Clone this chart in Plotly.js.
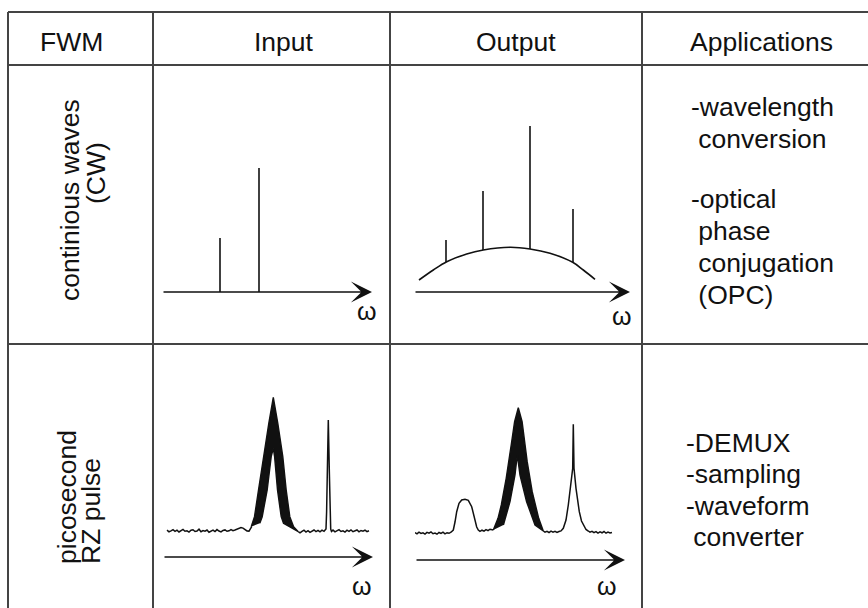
<!DOCTYPE html>
<html><head><meta charset="utf-8">
<script src="https://cdn.plot.ly/plotly-3.0.1.min.js"></script>
<style>html,body{margin:0;padding:0;background:#fff}#chart{width:868px;height:608px}</style>
</head><body><div id="chart"></div>
<script>
// ---------------- data ----------------
const columnHeaders = ["FWM", "Input", "Output", "Applications"];
const rowLabelsCW = ["continious waves", "(CW)"];
const rowLabelsPulse = ["picosecond", "RZ pulse"];
const cwApplications = ["-wavelength", "\u00a0conversion", "-optical", "\u00a0phase", "\u00a0conjugation", "\u00a0(OPC)"];
const pulseApplications = ["-DEMUX", "-sampling", "-waveform", "\u00a0converter"];
const omegaLabel = "ω";

// CW input: two pump lines (relative frequency, amplitude)
const cwInFreq = [58, 97];
const cwInAmp = [54, 124];

// CW output: four lines on a broad background
const cwOutFreq = [32, 69, 116, 159];
const cwOutAmp = [52, 101, 166, 83];
const cwOutFloor = [30, 42, 43, 30];
const cwOutBgFreq = [5, 19.3, 32.7, 52.7, 69.3, 96, 116, 136, 158.7, 169.3, 181];
const cwOutBgLevel = [12, 22, 30.3, 38, 42, 44.7, 43, 38.7, 29.7, 22, 12.7];

// Picosecond pulse input spectrum (trace); null = where the broad band sits
const pulseInFreq = [4,6,8,10,12,14,16,18,20,22,24,26,28,30,32,34,36,38,40,42,44,46,48,50,52,54,56,58,60,62,64,66,68,70,72,74,76,78,80,82,84,86,88.7,
  null,
  135.3,137,139,141,143,145,147,149,151,153,155,157,159,161,162,163,163.6,164.3,165.3,166.3,167,167.7,168.5,
  170,172,174,176,178,180,182,184,186,188,190,192,194,196,198,200,202,204,206];
const pulseInLevel = [26.8,25.2,26.1,27.3,25.6,26.9,25.0,26.4,27.6,25.8,26.2,24.9,26.7,27.2,25.5,26.0,27.8,25.3,26.5,25.9,27.0,24.8,26.3,26.9,25.4,27.4,26.0,25.1,26.6,27.1,25.7,26.2,27.5,26.4,27.0,27.6,28.6,29.5,28.9,27.2,26.1,25.9,30.3,
  null,
  25.3,24.2,25.6,26.9,25.0,26.4,24.7,26.1,27.0,25.4,26.6,25.1,26.8,25.7,26.5,28,45,87,137,87,45,28,25.5,
  26.9,25.2,26.6,27.3,25.5,26.2,24.9,26.8,25.6,27.1,25.3,26.4,27.0,25.1,26.5,25.8,26.9,25.4,26.2];
// broad modulated pump band: outer and inner envelopes
const pulseInOuterFreq = [88.2, 91.5, 95.5, 100.5, 105.8, 110.3, 114.8, 119.8, 123.2, 126.8, 130.6, 135.3];
const pulseInOuterLevel = [30.3, 40.3, 67, 100.3, 133.7, 159.7, 133.7, 100.3, 67, 40.3, 30.3, 25.3];
const pulseInInnerFreq = [96.8, 99.2, 104.2, 108.2, 110.3, 111.6, 114.5, 118.2, 120.5];
const pulseInInnerLevel = [33.7, 40.3, 67, 100.3, 108.7, 100.3, 67, 40.3, 33.7];

// Picosecond pulse output spectrum
const pulseOutFreq = [0,2,4,6,8,10,12,14,16,18,20,22,24,26,28,30,32,34,36,38.3,
  40,41.7,44,46.7,50,53.3,56.7,58.5,60,61.7,63.3,65,67,69,71,73,75,77,78.3,
  null,
  128.3,130,132,134,136,138,140,142,144,146,148.3,151,153.3,156,157.7,158.3,159,161,162.5,164.3,166.5,169,171,173.3,
  175,177,179,181,183,185,187,189,191,193,195,197];
const pulseOutLevel = [27.4,26.1,27.8,26.5,27.2,25.9,27.6,26.8,28.1,26.3,27.0,25.8,27.5,26.6,27.9,26.2,27.3,26.7,27.8,30,
  38,48.3,56.7,60,60.7,59.7,53.3,46,38.3,33,30,28.6,29.8,28.9,30.4,29.3,30.8,30.1,30,
  null,
  29,27.8,28.6,27.5,28.9,27.9,28.7,27.6,28.5,29.1,31.7,40,55,75,91.7,135.7,91.7,71.7,59,48.3,39,33.3,30.5,29,
  27.8,28.6,27.3,28.4,26.9,28.1,27.2,28.5,26.8,27.9,27.1,27.6];
const pulseOutOuterFreq = [78.3, 83, 86.3, 91.2, 96.2, 99.6, 103.3, 107.1, 112.2, 117.2, 123.7, 128.3];
const pulseOutOuterLevel = [30, 41.7, 55, 81.7, 115, 138.3, 152.3, 138.3, 98.3, 68.3, 41.7, 29];
const pulseOutInnerFreq = [88.4, 95, 100, 102.3, 105, 111.6, 120];
const pulseOutInnerLevel = [35, 58.3, 85, 105, 85, 58.3, 35];

// ---------------- layout helpers ----------------
const W = 868, H = 608;
const px = x => x / W;
const py = y => 1 - y / H;
const FONT = '"Liberation Sans", Arial, Helvetica, sans-serif';
const INK = '#111';
const FS = 26.5;

// panel boxes in pixels: [x0, x1, yTop, yAxis]
const panels = [
  [162, 372, 120, 292],
  [414, 630, 120, 292],
  [163, 373, 360, 557],
  [415, 625, 360, 560]
];

const layout = {
  width: W, height: H,
  margin: {l: 0, r: 0, t: 0, b: 0},
  paper_bgcolor: '#fff', plot_bgcolor: 'rgba(0,0,0,0)',
  showlegend: false,
  font: {family: FONT, size: FS, color: INK},
  shapes: [], annotations: []
};

panels.forEach((p, i) => {
  const s = i === 0 ? '' : String(i + 1);
  layout['xaxis' + s] = {domain: [px(p[0]), px(p[1])], range: [0, p[1] - p[0]], visible: false, fixedrange: true, anchor: 'y' + s};
  layout['yaxis' + s] = {domain: [py(p[3]), py(p[2])], range: [0, p[3] - p[2]], visible: false, fixedrange: true, anchor: 'x' + s};
  layout.annotations.push({
    xref: 'x' + s, yref: 'y' + s, axref: 'x' + s, ayref: 'y' + s,
    x: p[1] - p[0], y: 0, ax: 0, ay: 0, text: '',
    showarrow: true, arrowhead: 3, arrowsize: 2.2, arrowwidth: 1.6, arrowcolor: INK
  });
});

// table grid
const gridLine = {color: '#444', width: 2};
function hline(y, x0, x1) { layout.shapes.push({type: 'line', xref: 'paper', yref: 'paper', x0: px(x0), x1: px(x1), y0: py(y), y1: py(y), line: gridLine}); }
function vline(x, y0, y1) { layout.shapes.push({type: 'line', xref: 'paper', yref: 'paper', x0: px(x), x1: px(x), y0: py(y0), y1: py(y1), line: gridLine}); }
hline(12, 8, 868); hline(65, 8, 868); hline(344, 8, 868);
vline(8, 12, 608); vline(153, 12, 608); vline(390, 12, 608); vline(642, 12, 608);

function label(text, x, y, opts) {
  layout.annotations.push(Object.assign({
    xref: 'paper', yref: 'paper', x: px(x), y: py(y), text: text, showarrow: false,
    xanchor: 'center', yanchor: 'middle', font: {family: FONT, size: FS, color: INK}
  }, opts || {}));
}
// headers
const headerX = [71, 283.5, 516, 761.5];
columnHeaders.forEach((t, i) => label(t, headerX[i], 42));
// row labels (rotated)
label(rowLabelsCW[0], 70, 200, {textangle: -90});
label(rowLabelsCW[1], 96, 173, {textangle: -90});
label(rowLabelsPulse[0], 67, 566, {textangle: -90, yanchor: 'bottom'});
label(rowLabelsPulse[1], 91, 566, {textangle: -90, yanchor: 'bottom'});
// applications
const cwAppY = [107, 139, 199, 231, 263, 295];
cwApplications.forEach((t, i) => label(t, 689, cwAppY[i], {xanchor: 'left'}));
const pulseAppY = [443, 474, 505.5, 536.5];
pulseApplications.forEach((t, i) => label(t, 684, pulseAppY[i], {xanchor: 'left'}));
// omega labels
const omegaFont = {family: FONT, size: 25, color: INK};
label(omegaLabel, 366.7, 310.5, {font: omegaFont});
label(omegaLabel, 621.7, 316, {font: omegaFont});
label(omegaLabel, 361.7, 586, {font: omegaFont});
label(omegaLabel, 606.7, 586, {font: omegaFont});

// ---------------- traces ----------------
function sticks(freq, top, floor) {
  const x = [], y = [];
  freq.forEach((f, i) => { x.push(f, f, null); y.push(floor ? floor[i] : 0, top[i], null); });
  return {x, y};
}
const lineStyle = {color: INK, width: 1.6};
const traces = [];
const cwIn = sticks(cwInFreq, cwInAmp);
traces.push({x: cwIn.x, y: cwIn.y, mode: 'lines', line: lineStyle, xaxis: 'x', yaxis: 'y', hoverinfo: 'skip'});
traces.push({x: cwOutBgFreq, y: cwOutBgLevel, mode: 'lines', line: Object.assign({shape: 'spline', smoothing: 1}, lineStyle), xaxis: 'x2', yaxis: 'y2', hoverinfo: 'skip'});
const cwOut = sticks(cwOutFreq, cwOutAmp, cwOutFloor);
traces.push({x: cwOut.x, y: cwOut.y, mode: 'lines', line: lineStyle, xaxis: 'x2', yaxis: 'y2', hoverinfo: 'skip'});

function band(ox, oy, ix, iy, ax) {
  return {x: ox.concat(ix.slice().reverse()), y: oy.concat(iy.slice().reverse()), mode: 'lines', fill: 'toself',
    fillcolor: INK, line: {color: INK, width: 1.4}, xaxis: 'x' + ax, yaxis: 'y' + ax, hoverinfo: 'skip'};
}
const thin = {color: INK, width: 1.5};
traces.push({x: pulseInFreq, y: pulseInLevel, mode: 'lines', line: thin, connectgaps: false, xaxis: 'x3', yaxis: 'y3', hoverinfo: 'skip'});
traces.push(band(pulseInOuterFreq, pulseInOuterLevel, pulseInInnerFreq, pulseInInnerLevel, 3));
traces.push({x: pulseOutFreq, y: pulseOutLevel, mode: 'lines', line: thin, connectgaps: false, xaxis: 'x4', yaxis: 'y4', hoverinfo: 'skip'});
traces.push(band(pulseOutOuterFreq, pulseOutOuterLevel, pulseOutInnerFreq, pulseOutInnerLevel, 4));

Plotly.newPlot('chart', traces, layout, {displayModeBar: false, staticPlot: true});
</script>
</body></html>
